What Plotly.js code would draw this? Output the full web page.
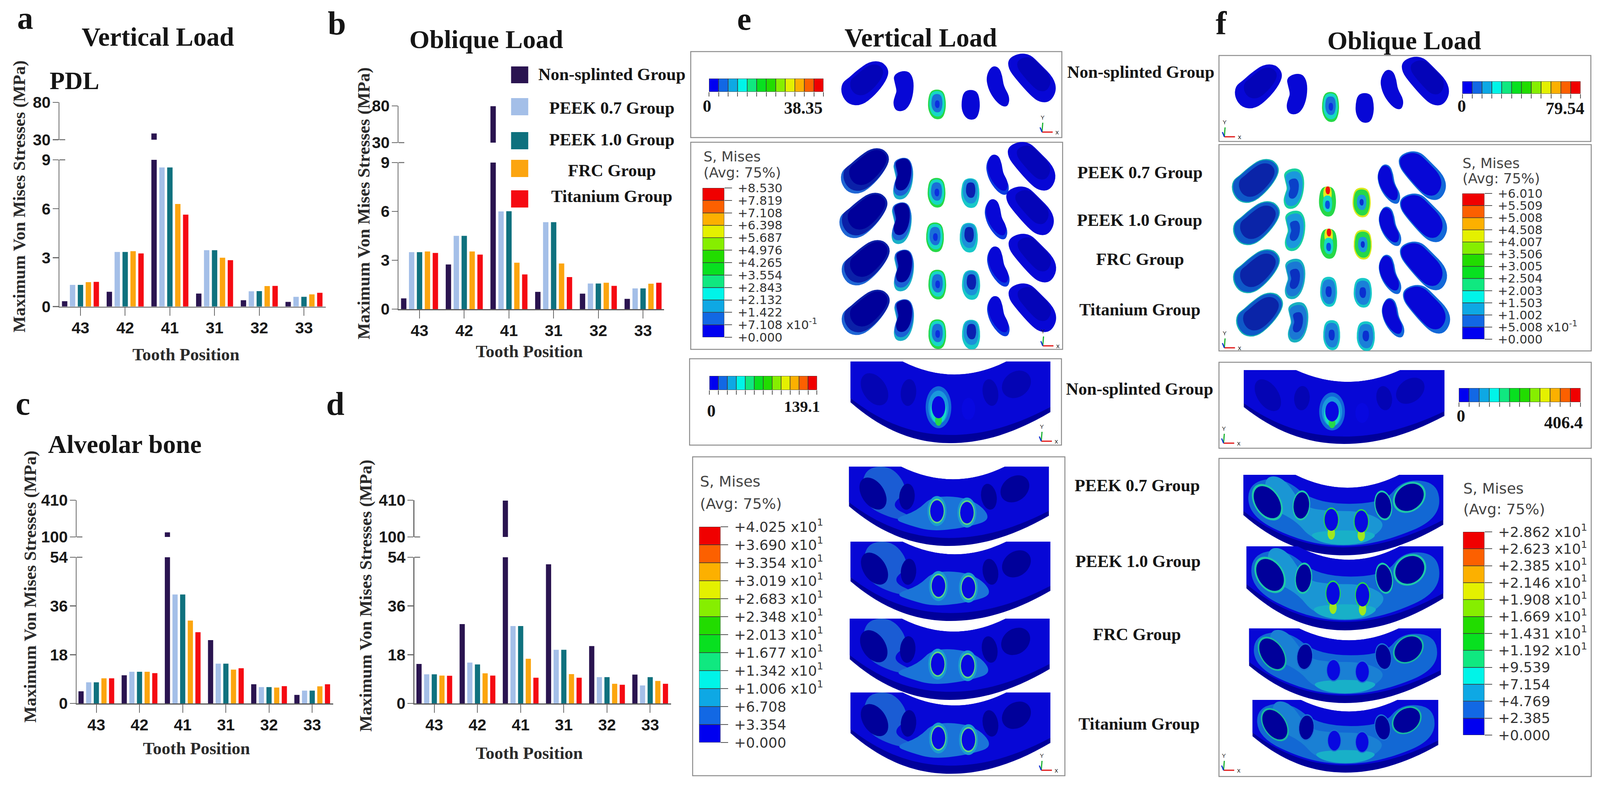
<!DOCTYPE html>
<html>
<head>
<meta charset="utf-8">
<script src="https://cdn.plot.ly/plotly-3.0.1.min.js"></script>
<style>html,body{margin:0;padding:0;background:#fff;overflow:hidden}</style>
</head>
<body>
<div id="fig"></div>
<script>
var teeth = ['43', '42', '41', '31', '32', '33']
var groups = ['Non-splinted Group', 'PEEK 0.7 Group', 'PEEK 1.0 Group', 'FRC Group', 'Titanium Group']
var groupColors = ['#2a1450', '#a4bfe8', '#0f717e', '#fca50f', '#f50a12']

// panel a, PDL vertical
var aNon = [0.33, 0.91, 38.35, 0.8, 0.39, 0.29]
var aP07 = [1.33, 3.35, 8.53, 3.46, 0.94, 0.6]
var aP10 = [1.33, 3.35, 8.53, 3.46, 0.95, 0.6]
var aFrc = [1.5, 3.4, 6.29, 3.0, 1.26, 0.75]
var aTi = [1.52, 3.26, 5.64, 2.85, 1.27, 0.85]
// panel b, PDL oblique
var bNon = [0.66, 2.74, 79.54, 1.06, 0.95, 0.63]
var bP07 = [3.5, 4.5, 6.0, 5.34, 1.57, 1.27]
var bP10 = [3.5, 4.5, 6.01, 5.34, 1.57, 1.27]
var bFrc = [3.54, 3.54, 2.85, 2.8, 1.62, 1.56]
var bTi = [3.45, 3.35, 2.13, 1.97, 1.43, 1.62]
// panel c, bone vertical
var cNon = [4.46, 10.4, 139.1, 23.4, 7.08, 3.15]
var cP07 = [7.78, 11.7, 40.25, 14.7, 6.03, 4.72]
var cP10 = [7.78, 11.7, 40.25, 14.7, 6.03, 4.72]
var cFrc = [9.27, 11.7, 30.6, 12.5, 5.86, 6.3]
var cTi = [9.27, 11.2, 26.3, 13.0, 6.38, 7.08]
// panel d, bone oblique
var dNon = [14.6, 29.3, 406.4, 51.4, 21.2, 10.66]
var dP07 = [10.75, 15.1, 28.6, 19.8, 9.7, 6.64]
var dP10 = [10.75, 14.4, 28.6, 19.8, 9.7, 9.7]
var dFrc = [10.3, 11.1, 16.5, 10.84, 7.25, 8.3]
var dTi = [10.2, 10.3, 9.5, 9.5, 6.9, 7.25]

var contourColors = ['#0000f0', '#1268e4', '#0ea8e4', '#00f4e8', '#10e880', '#08e020', '#22dc00', '#86ee00', '#e4f000', '#fcb000', '#fc6000', '#f00000']
var legendE2 = ['+0.000', '+7.108 x10<sup>-1</sup>', '+1.422', '+2.132', '+2.843', '+3.554', '+4.265', '+4.976', '+5.687', '+6.398', '+7.108', '+7.819', '+8.530']
var legendE4 = ['+0.000', '+3.354', '+6.708', '+1.006 x10<sup>1</sup>', '+1.342 x10<sup>1</sup>', '+1.677 x10<sup>1</sup>', '+2.013 x10<sup>1</sup>', '+2.348 x10<sup>1</sup>', '+2.683 x10<sup>1</sup>', '+3.019 x10<sup>1</sup>', '+3.354 x10<sup>1</sup>', '+3.690 x10<sup>1</sup>', '+4.025 x10<sup>1</sup>']
var legendF2 = ['+0.000', '+5.008 x10<sup>-1</sup>', '+1.002', '+1.503', '+2.003', '+2.504', '+3.005', '+3.506', '+4.007', '+4.508', '+5.008', '+5.509', '+6.010']
var legendF4 = ['+0.000', '+2.385', '+4.769', '+7.154', '+9.539', '+1.192 x10<sup>1</sup>', '+1.431 x10<sup>1</sup>', '+1.669 x10<sup>1</sup>', '+1.908 x10<sup>1</sup>', '+2.146 x10<sup>1</sup>', '+2.385 x10<sup>1</sup>', '+2.623 x10<sup>1</sup>', '+2.862 x10<sup>1</sup>']

var W = 4195
var H = 2019
var SERIF = 'Liberation Serif, Times New Roman, serif'
var SANS = 'Liberation Sans, Arial, sans-serif'
var ABAQUS = 'DejaVu Sans, Verdana, sans-serif'

var traces = []
var shapes = []
var annotations = []
var layout = {
  width: Math.min(W, window.innerWidth), height: H, margin: { l: 0, r: 0, t: 0, b: 0, pad: 0 },
  paper_bgcolor: '#fff', plot_bgcolor: 'rgba(0,0,0,0)', showlegend: false,
  barmode: 'group', bargap: 0.115, bargroupgap: 0.32, shapes: shapes, annotations: annotations
}
var nextAxis = 1

// invisible canvas axes, so shapes and notes can be placed in picture pixels
layout.xaxis50 = { domain: [0, 1], range: [0, W], visible: false, anchor: 'y50' }
layout.yaxis50 = { domain: [0, 1], range: [H, 0], visible: false, anchor: 'x50' }
traces.push({ type: 'scatter', mode: 'none', x: [0], y: [0], xaxis: 'x50', yaxis: 'y50', hoverinfo: 'skip' })

function note (text, x, y, size, opts) {
  opts = opts || {}
  annotations.push({
    text: text, x: x, y: y, xref: 'x50', yref: 'y50', showarrow: false,
    xanchor: opts.anchor || 'center', yanchor: 'middle', textangle: opts.angle || 0,
    font: { family: opts.family || SERIF, size: size, color: opts.color || '#151515', weight: opts.weight || 'bold' }
  })
}
function rect (x0, y0, x1, y1, fill, line, lw) {
  shapes.push({ type: 'rect', xref: 'x50', yref: 'y50', x0: x0, y0: y0, x1: x1, y1: y1, fillcolor: fill, line: { color: line || fill, width: lw === undefined ? 0 : lw }, layer: 'above' })
}
function seg (x0, y0, x1, y1, color, lw) {
  shapes.push({ type: 'line', xref: 'x50', yref: 'y50', x0: x0, y0: y0, x1: x1, y1: y1, line: { color: color, width: lw }, layer: 'above' })
}
function pathShape (path, fill) {
  shapes.push({ type: 'path', xref: 'x50', yref: 'y50', path: path, fillcolor: fill, line: { width: 0 }, layer: 'above' })
}

// smooth closed outline through the midpoints of a point loop
function blob (pts) {
  var n = pts.length
  var mid = function (a, b) { return [(a[0] + b[0]) / 2, (a[1] + b[1]) / 2] }
  var s = mid(pts[n - 1], pts[0])
  var d = 'M' + s[0] + ',' + s[1]
  for (var i = 0; i < n; i++) {
    var m = mid(pts[i], pts[(i + 1) % n])
    d += ' Q' + pts[i][0] + ',' + pts[i][1] + ' ' + m[0] + ',' + m[1]
  }
  return d + ' Z'
}

// ---- bar panels with a broken y axis
function barPanel (sets, p) {
  var lo = nextAxis++
  var up = nextAxis++
  var xr = [(p.ax - p.c0) / p.step, (p.xEnd - p.c0) / p.step]
  var xDomain = [p.ax / W, p.xEnd / W]
  var yaxisBase = {
    showgrid: false, zeroline: false, showline: true, linecolor: '#6a6a6a', linewidth: 2.5,
    ticks: 'outside', ticklen: 15, tickwidth: 2.5, tickcolor: '#6a6a6a', ticklabelstandoff: -3,
    tickfont: { family: SANS, size: 41, color: '#1a1a1a', weight: 'bold' }, tickmode: 'array'
  }
  layout['xaxis' + lo] = {
    domain: xDomain, range: xr, type: 'category', categoryorder: 'array', categoryarray: teeth,
    anchor: 'y' + lo, showgrid: false, zeroline: false, showline: true, linecolor: '#5a5a5a', linewidth: 2.5,
    ticks: 'outside', ticklen: 21, tickwidth: 2, tickcolor: '#6a6a6a', ticklabelstandoff: -4,
    tickfont: { family: SANS, size: 41, color: '#1a1a1a', weight: 'bold' }
  }
  layout['xaxis' + up] = {
    domain: xDomain, range: xr, type: 'category', categoryorder: 'array', categoryarray: teeth,
    anchor: 'y' + up, visible: false
  }
  layout['yaxis' + lo] = Object.assign({}, yaxisBase, {
    domain: [1 - p.y0 / H, 1 - p.yMid / H], range: [0, p.lowMax], anchor: 'x' + lo,
    tickvals: p.lowTicks, ticktext: p.lowTicks.map(String)
  })
  layout['yaxis' + up] = Object.assign({}, yaxisBase, {
    domain: [1 - p.yUp / H, 1 - p.yTop / H], range: [p.upMin, p.upMax], anchor: 'x' + up,
    tickvals: [p.upMin, p.upMax], ticktext: [String(p.upMin), String(p.upMax)]
  })
  sets.forEach(function (vals, i) {
    [lo, up].forEach(function (ax) {
      traces.push({
        type: 'bar', name: groups[i], x: teeth, y: vals, xaxis: 'x' + ax, yaxis: 'y' + ax,
        marker: { color: groupColors[i], line: { width: 0 } }, hoverinfo: 'x+y+name'
      })
    })
  })
  // the ticks either side of the axis break also run inwards
  seg(p.ax, p.yMid, p.ax + 15, p.yMid, '#6a6a6a', 2.5)
  seg(p.ax, p.yUp, p.ax + 15, p.yUp, '#6a6a6a', 2.5)
  note('Maximum Von Mises Stresses (MPa)', p.titleX, p.titleY, 44.5, { angle: -90, color: '#2a2a2a' })
  note('Tooth Position', p.labelX, p.labelY, 44.5, { color: '#2a2a2a' })
}

barPanel([aNon, aP07, aP10, aFrc, aTi], { ax: 156, xEnd: 854, c0: 211, step: 117.2, y0: 784.6, yMid: 409, yUp: 357.5, yTop: 262, lowMax: 9, lowTicks: [0, 3, 6, 9], upMin: 30, upMax: 80, titleX: 50, titleY: 503, labelX: 487, labelY: 907 })
barPanel([bNon, bP07, bP10, bFrc, bTi], { ax: 1045, xEnd: 1741, c0: 1100, step: 117.2, y0: 791, yMid: 416, yUp: 365, yTop: 271, lowMax: 9, lowTicks: [0, 3, 6, 9], upMin: 30, upMax: 80, titleX: 953, titleY: 521, labelX: 1388, labelY: 899 })
barPanel([cNon, cP07, cP10, cFrc, cTi], { ax: 201, xEnd: 874, c0: 252.6, step: 113.2, y0: 1800, yMid: 1426, yUp: 1374, yTop: 1280, lowMax: 54, lowTicks: [0, 18, 36, 54], upMin: 100, upMax: 410, titleX: 79, titleY: 1501, labelX: 515, labelY: 1915 })
barPanel([dNon, dP07, dP10, dFrc, dTi], { ax: 1086.5, xEnd: 1760, c0: 1138.7, step: 113.2, y0: 1800, yMid: 1426, yUp: 1374, yTop: 1280, lowMax: 54, lowTicks: [0, 18, 36, 54], upMin: 100, upMax: 410, titleX: 959, titleY: 1524, labelX: 1388, labelY: 1927 })

// ---- hand made legend of the bar panels
var legendBoxes = [[170, 213, 190], [251, 295, 276], [338, 382, 357], [409, 453, 436], [487, 531, 502]]
legendBoxes.forEach(function (b, i) {
  rect(1340, b[0], 1385, b[1], groupColors[i])
  note(groups[i], 1604, b[2], 44)
})

// ---- panel letters and headings
note('a', 66, 46, 82); note('b', 883, 59, 84); note('c', 60, 1032, 84)
note('d', 879, 1033, 84); note('e', 1951, 48, 82); note('f', 3202, 59, 84)
note('Vertical Load', 414, 94, 67); note('Oblique Load', 1275, 100, 66.5)
note('PDL', 195, 206, 63.5); note('Alveolar bone', 327, 1136, 66)
note('Vertical Load', 2414, 96, 67); note('Oblique Load', 3682, 103, 66.5)

var middleLabels = [
  [groups[0], 2991, 184], [groups[1], 2989, 441], [groups[2], 2988, 563], [groups[3], 2989, 663], [groups[4], 2989, 792],
  [groups[0], 2988, 995], [groups[1], 2982, 1242], [groups[2], 2984, 1436], [groups[3], 2981, 1623], [groups[4], 2986, 1852]
]
middleLabels.forEach(function (m) { note(m[0], m[1], m[2], 44) })

// ---- frames round the model pictures
var frames = [
  [1811, 132, 2784, 352], [1811, 364, 2786, 894], [1808, 918, 2783, 1139], [1816, 1169, 2792, 1985],
  [3196, 142, 4171, 362], [3196, 370, 4172, 898], [3196, 927, 4172, 1147], [3196, 1173, 4172, 1987]
]
frames.forEach(function (f) { rect(f[0], f[1], f[2], f[3], 'rgba(0,0,0,0)', '#8c8c8c', 2.5) })

// ---- contour scales, drawn as stacked bars on their own axes
function scaleBar (box, labels, size) {
  var id = nextAxis++
  var cells = contourColors.map(function () { return 1 })
  var starts = contourColors.map(function (c, i) { return i })
  var vertical = !!labels
  var xDomain = [box[0] / W, box[2] / W]
  var yDomain = [1 - box[3] / H, 1 - box[1] / H]
  var tickPart = {
    showgrid: false, zeroline: false, ticks: 'outside', tickwidth: 2, tickcolor: '#555',
    tickmode: 'array', tickvals: contourColors.map(function (c, i) { return i }).concat(12), range: [0, 12]
  }
  var plain = { showgrid: false, zeroline: false, showticklabels: false, ticks: '', range: [-0.5, 0.5] }
  if (vertical) {
    layout['xaxis' + id] = Object.assign({ domain: xDomain, anchor: 'y' + id }, plain)
    layout['yaxis' + id] = Object.assign({
      domain: yDomain, anchor: 'x' + id, side: 'right', ticklen: 19, ticktext: labels, ticklabelstandoff: 8,
      tickfont: { family: ABAQUS, size: size, color: '#333' }
    }, tickPart)
  } else {
    layout['yaxis' + id] = Object.assign({ domain: yDomain, anchor: 'x' + id }, plain)
    layout['xaxis' + id] = Object.assign({
      domain: xDomain, anchor: 'y' + id, ticklen: 11, showticklabels: false
    }, tickPart)
  }
  traces.push({
    type: 'bar', orientation: vertical ? 'v' : 'h', width: 1, base: starts,
    x: vertical ? cells.map(function () { return 0 }) : cells,
    y: vertical ? cells : cells.map(function () { return 0 }),
    xaxis: 'x' + id, yaxis: 'y' + id, hoverinfo: 'skip',
    marker: { color: contourColors, line: { color: '#3a3a3a', width: 1.5 } }
  })
}
scaleBar([1859, 201, 2159, 235])
scaleBar([1860, 962, 2142, 998])
scaleBar([3834, 208, 4144, 240])
scaleBar([3825, 993, 4144, 1029])
scaleBar([1842, 481, 1899, 863], legendE2, 31)
scaleBar([1833, 1348, 1889, 1900], legendE4, 36)
scaleBar([3834, 495, 3892, 868], legendF2, 31)
scaleBar([3836, 1361, 3892, 1881], legendF4, 36)

note('0', 1854, 271, 44); note('38.35', 2106, 276, 44)
note('0', 1865, 1051, 44); note('139.1', 2103, 1040, 41)
note('0', 3832, 271, 44); note('79.54', 4103, 277, 44)
note('0', 3830, 1064, 44); note('406.4', 4099, 1081, 44)

var smisesNotes = [[1842, 400, 441, 36], [1833, 1232, 1289, 38], [3832, 417, 456, 36], [3834, 1250, 1303, 38]]
smisesNotes.forEach(function (s) {
  note('S, Mises', s[0], s[1], s[3], { anchor: 'left', family: ABAQUS, weight: 'normal', color: '#444' })
  note('(Avg: 75%)', s[0], s[2], s[3], { anchor: 'left', family: ABAQUS, weight: 'normal', color: '#444' })
})

// ---- coordinate triads
function triad (x, y) {
  seg(x, y, x + 28, y, '#e01010', 3)
  seg(x, y, x + 2, y - 24, '#18b030', 3)
  seg(x, y, x - 5, y - 12, '#1030d0', 3)
  note('x', x + 40, y, 17, { family: SANS, color: '#222', weight: 'normal' })
  note('Y', x + 1, y - 38, 15, { family: SANS, color: '#222', weight: 'normal' })
}
[[2732, 338], [2734, 885], [2730, 1129], [2730, 1971], [3210, 350], [3210, 890], [3208, 1134], [3208, 1971]].forEach(function (t) { triad(t[0], t[1]) })

// ---- tooth root sections of the model pictures
var deep = '#00009a'; var main = '#0707d6'; var lite = '#1268d8'; var sky = '#1a98dc'; var teal = '#14b0b4'
var cyan = '#16d8c4'; var green = '#26d848'; var yel = '#e6e81a'; var red = '#ef1010'

var outlines = {
  bigL: [[0.6, -0.03], [0.88, -0.03], [1.05, 0.18], [0.98, 0.45], [0.72, 0.8], [0.42, 1.05], [0.12, 1.03], [-0.05, 0.78], [-0.04, 0.5], [0.14, 0.36], [0.3, 0.2]],
  bigR: [[0.2, -0.04], [0.45, -0.02], [0.68, 0.2], [0.98, 0.5], [1.05, 0.78], [0.9, 1.04], [0.65, 1.04], [0.45, 0.88], [0.15, 0.55], [-0.04, 0.3], [-0.04, 0.08]],
  midL: [[0.35, -0.02], [0.8, -0.02], [1.03, 0.2], [1.02, 0.55], [0.85, 0.85], [0.55, 1.03], [0.12, 1.02], [-0.02, 0.82], [0.1, 0.6], [0.18, 0.5], [0.08, 0.3], [0, 0.1]],
  midR: [[0.22, -0.02], [0.55, 0.02], [0.7, 0.25], [0.75, 0.5], [1.03, 0.78], [0.95, 1.03], [0.65, 1.02], [0.3, 0.82], [0.05, 0.55], [-0.03, 0.25]],
  small: [[0.5, -0.03], [0.9, 0.05], [1.03, 0.4], [1, 0.75], [0.8, 1.03], [0.3, 1.03], [0, 0.75], [-0.03, 0.4], [0.1, 0.05]]
}
var kinds = ['bigL', 'midL', 'small', 'small', 'midR', 'bigR']

// contour layers: colour, scale, shift x, shift y (in box sizes)
var plainBlue = [[main, 1, 0, 0]]
var plainDeep = [[main, 1, 0, 0], ['#0404b8', 0.7, 0.04, -0.08]]
var hotTooth = [[green, 1, 0, 0], [cyan, 0.86, 0, -0.02], ['#1a70d8', 0.62, 0, -0.04], ['#0a30e0', 0.26, 0.02, 0]]
var rootV = [['#1f66d4', 1, 0, 0], ['#0a20a8', 0.97, 0.04, -0.05], [deep, 0.8, 0.08, -0.1]]
var midV = [['#1ab0c8', 1, 0, 0], ['#1a60d4', 0.95, 0, -0.07], [deep, 0.8, 0.01, -0.13]]
var smallV = [['#18c8c8', 1, 0, 0], ['#1a90d8', 0.82, 0, -0.06], ['#0a20b0', 0.52, 0.02, -0.1]]
var sideV = [['#0a3ae0', 1, 0, 0], [main, 0.9, 0, -0.05]]
var rootO = [[teal, 1, 0, 0], ['#0e58c8', 0.95, 0, 0], ['#0a24a8', 0.76, 0.03, -0.02]]
var midO = [['#18d0a0', 1, 0, 0], [sky, 0.86, 0, 0], ['#0a40c8', 0.5, 0, 0]]
var midO2 = [['#18b0c0', 1, 0, 0], ['#1a78d4', 0.86, 0, 0], ['#0a30c0', 0.5, 0, 0]]
var hotO = [[green, 1, 0, 0], [yel, 0.5, 0, -0.26], [red, 0.26, 0.02, -0.38], [cyan, 0.55, 0, 0.08], ['#0a50e0', 0.28, 0, 0.12]]
var warmO = [['#d8e81a', 1, 0, 0], [green, 0.88, 0, 0], [sky, 0.52, 0, 0], ['#0a30d0', 0.22, 0, 0]]
var coolO = [['#18c8c8', 1, 0, 0], ['#1a80d8', 0.82, 0, 0], ['#0a30d0', 0.36, 0, 0]]
var sideO = [[lite, 1, 0, 0], [main, 0.88, -0.04, -0.03]]

function tooth (box, kind, layers) {
  var w = box[2] - box[0]
  var h = box[3] - box[1]
  layers.forEach(function (l) {
    pathShape(blob(outlines[kind].map(function (p) {
      var ux = 0.5 + (p[0] - 0.5) * l[1] + l[2]
      var uy = 0.5 + (p[1] - 0.5) * l[1] + l[3]
      return [box[0] + ux * w, box[1] + uy * h]
    })), l[0])
  })
}
function toothRow (boxes, dx, dy, palette) {
  boxes.forEach(function (b, i) {
    tooth([b[0] + dx, b[1] + dy, b[2] + dx, b[3] + dy], kinds[i], palette[i])
  })
}
var vBoxes = [[2211, 160, 2326, 265], [2342, 184, 2394, 282], [2434, 230, 2479, 303], [2522, 231, 2568, 304], [2587, 170, 2646, 270], [2648, 141, 2765, 257]]
var oBoxes = [[3243, 168, 3358, 273], [3373, 191, 3426, 290], [3467, 236, 3510, 310], [3555, 239, 3601, 312], [3620, 179, 3679, 277], [3680, 149, 3796, 265]]
var plainRow = [plainDeep, plainBlue, hotTooth, plainBlue, plainBlue, plainDeep]
var vRow = [rootV, midV, hotTooth, smallV, sideV, plainDeep]
var oHot = [rootO, midO, hotO, warmO, sideO, sideO]
var oCool = [rootO, midO2, coolO, coolO, sideO, sideO]
toothRow(vBoxes, 0, 0, plainRow)
toothRow(vBoxes, -1, 226, vRow)
toothRow(vBoxes, -5, 340, vRow)
toothRow(vBoxes, 1, 461, vRow)
toothRow(vBoxes, 1, 588, vRow)
toothRow(oBoxes, 0, 0, plainRow)
toothRow(oBoxes, -8, 242, oHot)
toothRow(oBoxes, -5, 350, oHot)
toothRow(oBoxes, -5, 473, oCool)
toothRow(oBoxes, 3, 584, oCool)

// ---- jaw sections
var sockets = [[0.12, 0.34, 0.09, 0.15, 55], [0.29, 0.38, 0.04, 0.17, 5], [0.44, 0.56, 0.035, 0.14, 0], [0.59, 0.58, 0.035, 0.14, 0], [0.7, 0.38, 0.04, 0.17, -10], [0.83, 0.28, 0.08, 0.16, -35]]

function jawOutline (b, bottom) {
  var w = b[2] - b[0]
  var h = b[3] - b[1]
  var X = function (u) { return b[0] + u * w }
  var Y = function (v) { return b[1] + v * h }
  var k = bottom
  return 'M' + X(0) + ',' + Y(0) + ' L' + X(0.26) + ',' + Y(0) +
    ' Q' + X(0.52) + ',' + Y(0.32) + ' ' + X(0.78) + ',' + Y(0) +
    ' L' + X(1) + ',' + Y(0) + ' L' + X(1) + ',' + Y(0.62 * k) +
    ' C' + X(0.82) + ',' + Y(0.88 * k) + ' ' + X(0.66) + ',' + Y(k) + ' ' + X(0.5) + ',' + Y(k) +
    ' C' + X(0.3) + ',' + Y(k) + ' ' + X(0.14) + ',' + Y(0.8 * k) + ' ' + X(0) + ',' + Y(0.5 * k) + ' Z'
}
function ellipse (b, s, grow, color, dy) {
  var w = b[2] - b[0]
  var h = b[3] - b[1]
  var cx = b[0] + s[0] * w
  var cy = b[1] + (s[1] + (dy || 0)) * h
  var rx = s[2] * w * grow
  var ry = s[3] * h * grow
  var a = s[4] * Math.PI / 180
  var pts = []
  for (var i = 0; i < 12; i++) {
    var t = i / 12 * Math.PI * 2
    var ex = Math.cos(t) * rx
    var ey = Math.sin(t) * ry
    pts.push([cx + ex * Math.cos(a) - ey * Math.sin(a), cy + ex * Math.sin(a) + ey * Math.cos(a)])
  }
  pathShape(blob(pts), color)
}
function patch (b, color, pts) {
  pathShape(blob(pts.map(function (p) { return [b[0] + p[0] * (b[2] - b[0]), b[1] + p[1] * (b[3] - b[1])] })), color)
}
function jaw (b, style) {
  pathShape(jawOutline(b, 1), deep)
  pathShape(jawOutline(b, 0.9), main)
  if (style === 'v') {
    patch(b, '#1a5cd4', [[0.1, 0.0], [0.22, 0.0], [0.3, 0.3], [0.2, 0.5], [0.34, 0.66], [0.24, 0.68], [0.08, 0.5], [0.06, 0.2]])
    patch(b, '#1a74d8', [[0.22, 0.66], [0.34, 0.56], [0.42, 0.36], [0.62, 0.4], [0.72, 0.66], [0.6, 0.76], [0.42, 0.82], [0.3, 0.74]])
  }
  if (style === 'o' || style === 'p') {
    patch(b, '#1268d4', [[0.02, 0.1], [0.2, 0.02], [0.36, 0.36], [0.7, 0.36], [0.8, 0.05], [0.98, 0.1], [0.98, 0.55], [0.72, 0.82], [0.5, 0.9], [0.28, 0.82], [0.03, 0.52]])
    patch(b, style === 'o' ? '#1a96d4' : '#1a80d4', [[0.1, 0.02], [0.2, 0.02], [0.3, 0.4], [0.42, 0.45], [0.6, 0.45], [0.72, 0.6], [0.64, 0.8], [0.5, 0.86], [0.34, 0.8], [0.26, 0.56], [0.12, 0.4]])
    patch(b, '#18b0c8', [[0.32, 0.72], [0.5, 0.68], [0.68, 0.72], [0.62, 0.84], [0.5, 0.88], [0.38, 0.84]])
  }
  sockets.forEach(function (s, i) {
    var active = i === 2 || (i === 3 && style !== 'n')
    if (style === 'n' && active) {
      ellipse(b, s, 1.9, lite)
      ellipse(b, s, 1.5, sky)
      ellipse(b, s, 1.18, cyan, 0.04)
      ellipse(b, s, 0.5, green, 0.16)
    }
    if ((style === 'v') && active) {
      ellipse(b, s, 1.4, '#1a9cd0')
      ellipse(b, s, 1.15, '#60d880')
    }
    if (style === 'o') {
      ellipse(b, s, 1.14, active ? green : '#1ec8a8')
      if (active) ellipse(b, s, 0.55, '#a0e81e', 0.17)
    }
    if (style === 'p') ellipse(b, s, 1.12, i === 0 || i === 5 ? '#18b8a0' : '#1a70d4')
    ellipse(b, s, 1, i === 2 || i === 3 ? '#0808e0' : (style === 'n' ? '#0404b4' : deep))
  })
}
jaw([2230, 925, 2754, 1134], 'n')
jaw([2226, 1194, 2750, 1397], 'v')
jaw([2230, 1386, 2754, 1589], 'v')
jaw([2228, 1583, 2752, 1791], 'v')
jaw([2230, 1772, 2754, 1980], 'v')
jaw([3261, 947, 3787, 1136], 'n')
jaw([3260, 1215, 3784, 1421], 'o')
jaw([3268, 1398, 3784, 1613], 'o')
jaw([3275, 1608, 3778, 1799], 'p')
jaw([3284, 1791, 3771, 1977], 'p')

Plotly.newPlot('fig', traces, layout, { displayModeBar: false, staticPlot: true })
</script>
</body>
</html>
